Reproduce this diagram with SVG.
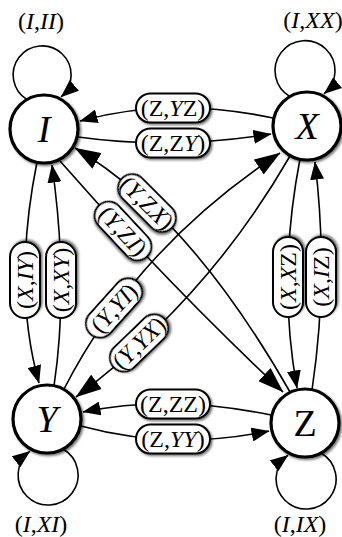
<svg xmlns="http://www.w3.org/2000/svg" width="342" height="537" viewBox="0 0 342 537">
  <style>
    .edge { fill: none; stroke: #000; stroke-width: 1.6; }
    .sm { marker-end: url(#tip); }
    .bg { marker-end: url(#bigtip); }
    .node circle { fill: #fff; stroke: #000; stroke-width: 3.2; filter: url(#shadow); }
    .node text { font-family: "Liberation Serif", "Times New Roman", serif; font-size: 38px; text-anchor: middle; font-style: italic; }
    .lbl rect { fill: #fff; stroke: #000; stroke-width: 2; filter: url(#shadow); }
    .lbl text, .loop-label { font-family: "Liberation Serif", "Times New Roman", serif; font-size: 24px; text-anchor: middle; }
    .i { font-style: italic; }
  </style>
  <defs>
    <filter id="shadow" x="-30%" y="-30%" width="170%" height="170%">
      <feDropShadow dx="1.6" dy="1.6" stdDeviation="1.3" flood-color="#000" flood-opacity="0.55"/>
    </filter>
    <marker id="tip" viewBox="0 0 18 14" refX="17.5" refY="7" markerWidth="18" markerHeight="14" markerUnits="userSpaceOnUse" orient="auto">
      <path d="M0,0 L18,7 L0,14 Z" fill="#000"/>
    </marker>
    <marker id="bigtip" viewBox="0 0 26 18" refX="25.5" refY="9" markerWidth="26" markerHeight="18" markerUnits="userSpaceOnUse" orient="auto">
      <path d="M0,0 L26,9 L0,18 Z" fill="#000"/>
    </marker>
  </defs>

  <!-- connectors -->
  <g id="connectors">
    <!-- self loops -->
    <path class="edge sm" d="M27,99.6 A29 29 0 1 1 61.1,96.8"/>
    <path class="edge sm" d="M290,96.6 A30 30 0 1 1 324.1,93.8"/>
    <path class="edge sm" d="M63,449 A30 30 0 1 1 29.9,451.2"/>
    <path class="edge sm" d="M321,453 A30 30 0 1 1 287.9,455.2"/>
    <!-- I / X -->
    <path class="edge sm" d="M273,118 Q170,96 80,121"/>
    <path class="edge sm" d="M78,137 Q172,150 271,134"/>
    <!-- Y / Z -->
    <path class="edge sm" d="M271,415 Q170,394 83,412"/>
    <path class="edge sm" d="M81,426 Q172,451 269,431"/>
    <!-- I / Y -->
    <path class="edge sm" d="M37,162 Q12,287 39,383"/>
    <path class="edge sm" d="M54,386 Q69,285 52,165"/>
    <!-- X / Z -->
    <path class="edge sm" d="M300,159 Q277,278 297,388"/>
    <path class="edge sm" d="M312,390 Q329,277 315,162"/>
    <!-- diagonals -->
    <path class="edge bg" d="M290,392 Q189,215 75,148"/>
    <path class="edge bg" d="M60,161 Q162,278 283,392"/>
    <path class="edge bg" d="M64,389 Q137,247 280,153"/>
    <path class="edge bg" d="M290,156 Q207,300 76,397"/>
  </g>

  <!-- edge labels -->
  <g id="labels">
    <g class="lbl" transform="translate(173,108)"><rect x="-37" y="-14.5" width="74" height="29" rx="14.5"/><text y="8">(Z,<tspan class="i">Y</tspan>Z)</text></g>
    <g class="lbl" transform="translate(173,143)"><rect x="-37" y="-14.5" width="74" height="29" rx="14.5"/><text y="8">(Z,Z<tspan class="i">Y</tspan>)</text></g>
    <g class="lbl" transform="translate(173,404)"><rect x="-37" y="-14.5" width="74" height="29" rx="14.5"/><text y="8">(Z,ZZ)</text></g>
    <g class="lbl" transform="translate(173,439)"><rect x="-37" y="-14.5" width="74" height="29" rx="14.5"/><text y="8">(Z,<tspan class="i">YY</tspan>)</text></g>
    <g class="lbl" transform="translate(25,280) rotate(-90)"><rect x="-38" y="-15" width="76" height="30" rx="15"/><text y="8">(<tspan class="i">X</tspan>,<tspan class="i">IY</tspan>)</text></g>
    <g class="lbl" transform="translate(61,280) rotate(-90)"><rect x="-38" y="-15" width="76" height="30" rx="15"/><text y="8">(<tspan class="i">X</tspan>,<tspan class="i">XY</tspan>)</text></g>
    <g class="lbl" transform="translate(288,277) rotate(-90)"><rect x="-40" y="-15" width="80" height="30" rx="15"/><text y="8">(<tspan class="i">X</tspan>,<tspan class="i">X</tspan>Z)</text></g>
    <g class="lbl" transform="translate(321,277) rotate(-90)"><rect x="-40" y="-15" width="80" height="30" rx="15"/><text y="8">(<tspan class="i">X</tspan>,<tspan class="i">I</tspan>Z)</text></g>
    <g class="lbl" transform="translate(147,203) rotate(45)"><rect x="-35" y="-14" width="70" height="28" rx="14"/><text y="8">(<tspan class="i">Y</tspan>,Z<tspan class="i">X</tspan>)</text></g>
    <g class="lbl" transform="translate(123,231) rotate(47)"><rect x="-35" y="-14" width="70" height="28" rx="14"/><text y="8">(<tspan class="i">Y</tspan>,Z<tspan class="i">I</tspan>)</text></g>
    <g class="lbl" transform="translate(114,308) rotate(-48)"><rect x="-35" y="-14" width="70" height="28" rx="14"/><text y="8">(<tspan class="i">Y</tspan>,<tspan class="i">YI</tspan>)</text></g>
    <g class="lbl" transform="translate(139,343) rotate(-44)"><rect x="-35" y="-14" width="70" height="28" rx="14"/><text y="8">(<tspan class="i">Y</tspan>,<tspan class="i">YX</tspan>)</text></g>
  </g>

  <!-- loop labels -->
  <g id="loop-labels">
    <text class="loop-label" x="41" y="29">(<tspan class="i">I</tspan>,<tspan class="i">II</tspan>)</text>
    <text class="loop-label" x="313" y="28">(<tspan class="i">I</tspan>,<tspan class="i">XX</tspan>)</text>
    <text class="loop-label" x="41" y="532">(<tspan class="i">I</tspan>,<tspan class="i">XI</tspan>)</text>
    <text class="loop-label" x="300" y="532">(<tspan class="i">I</tspan>,<tspan class="i">IX</tspan>)</text>
  </g>

  <!-- nodes -->
  <g id="node-I" class="node"><circle cx="44" cy="129" r="34"/><text x="44" y="142">I</text></g>
  <g id="node-X" class="node"><circle cx="307" cy="126" r="34"/><text x="307" y="139">X</text></g>
  <g id="node-Y" class="node"><circle cx="47" cy="419" r="34"/><text x="47" y="432">Y</text></g>
  <g id="node-Z" class="node"><circle cx="305" cy="423" r="34"/><text x="305" y="436" style="font-style:normal">Z</text></g>
</svg>
